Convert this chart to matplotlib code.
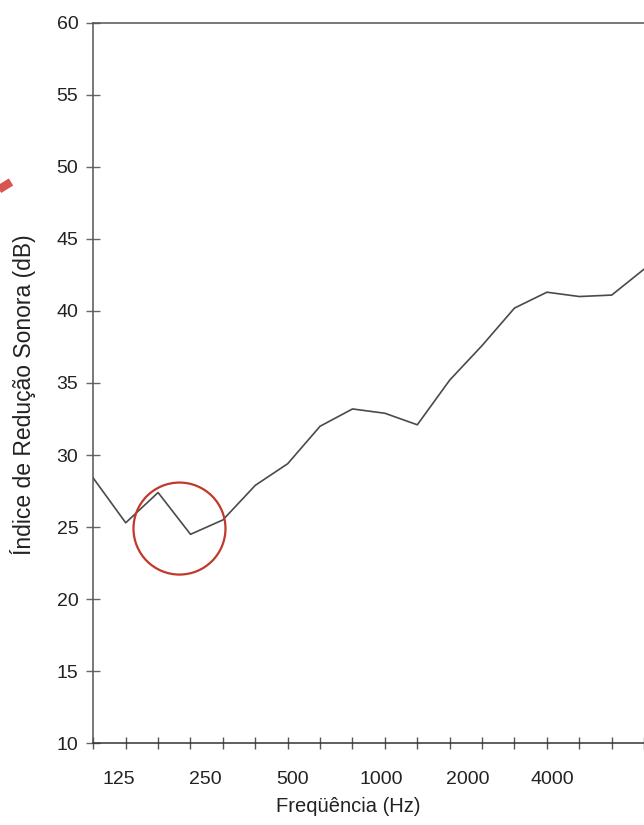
import matplotlib
matplotlib.use("Agg")
import matplotlib.pyplot as plt
from matplotlib.patches import Ellipse
from matplotlib.lines import Line2D
from matplotlib.ticker import FixedLocator, NullFormatter

plt.rcParams['font.family'] = ['Liberation Sans', 'DejaVu Sans']

# third-octave bands (Hz) and sound reduction index (dB)
freqs = [100, 125, 160, 200, 250, 315, 400, 500, 630, 800,
         1000, 1250, 1600, 2000, 2500, 3150, 4000, 5000]
r_index = [28.4, 25.3, 27.4, 24.5, 25.5, 27.9, 29.4, 32.0, 33.2, 32.9,
           32.1, 35.2, 37.6, 40.2, 41.3, 41.0, 41.1, 42.9]
tick_labels = ["125", "250", "500", "1000", "2000", "4000"]
y_ticks = [10, 15, 20, 25, 30, 35, 40, 45, 50, 55, 60]

W, H = 644, 825
fig = plt.figure(figsize=(W / 100, H / 100), dpi=100)
fig.patch.set_facecolor("white")

# axes run past the right edge of the (cropped) scan
x0, y0, y1 = 93.3, 743.3, 22.7
px_per_band = 32.4
nb = 18
aw = nb * px_per_band
ah = y0 - y1
ax = fig.add_axes([x0 / W, (H - y0) / H, aw / W, ah / H])

xs = list(range(len(freqs)))
ax.plot(xs, r_index, color="#4a4a4a", lw=1.2)

ax.set_xlim(0, nb)
ax.set_ylim(10, 60)

# labels in the scan sit evenly spaced, not on the band ticks
label_pos = [0.80, 3.47, 6.15, 8.90, 11.56, 14.17]
ax.xaxis.set_major_locator(FixedLocator(label_pos))
ax.set_xticklabels(tick_labels)
ax.xaxis.set_minor_locator(FixedLocator(xs))
ax.xaxis.set_minor_formatter(NullFormatter())
ax.tick_params(axis="x", which="major", length=0, pad=20, labelsize=14, colors="#222222")
ax.tick_params(axis="x", which="minor", direction="inout", length=9, width=1.0, color="#555555")

ax.set_yticks(y_ticks)
ax.tick_params(axis="y", direction="inout", length=9.5, width=1.0, pad=6,
               labelsize=14, color="#666666", labelcolor="#222222")

for s in ["left", "bottom", "top"]:
    ax.spines[s].set_color("#555555")
    ax.spines[s].set_linewidth(1.1)
ax.spines["bottom"].set_color("#333333")
ax.spines["right"].set_visible(False)

ax.set_xlabel("Freqüência (Hz)", fontsize=14.5, color="#222222")
ax.xaxis.set_label_coords((348 - x0) / aw, -(797 - y0) / ah, transform=ax.transAxes)
ax.set_ylabel("Índice de Redução Sonora (dB)", fontsize=16.5, color="#222222")
ax.yaxis.set_label_coords(-(x0 - 36) / aw, (y0 - 395) / ah, transform=ax.transAxes)

# red circle highlighting the dip at 160-250 Hz
circ = Ellipse((2.66, 24.9), width=2 * 46 / px_per_band, height=2 * 46 / 14.41,
               fill=False, edgecolor="#c0392b", lw=1.6, zorder=5)
ax.add_patch(circ)

# tail of a red arrow at the left margin
fig.add_artist(Line2D([-10 / W, 11 / W], [(H - 195) / H, (H - 182) / H],
                      transform=fig.transFigure, color="#d9534f", lw=6,
                      solid_capstyle="butt"))

fig.savefig("out.png", dpi=100)
